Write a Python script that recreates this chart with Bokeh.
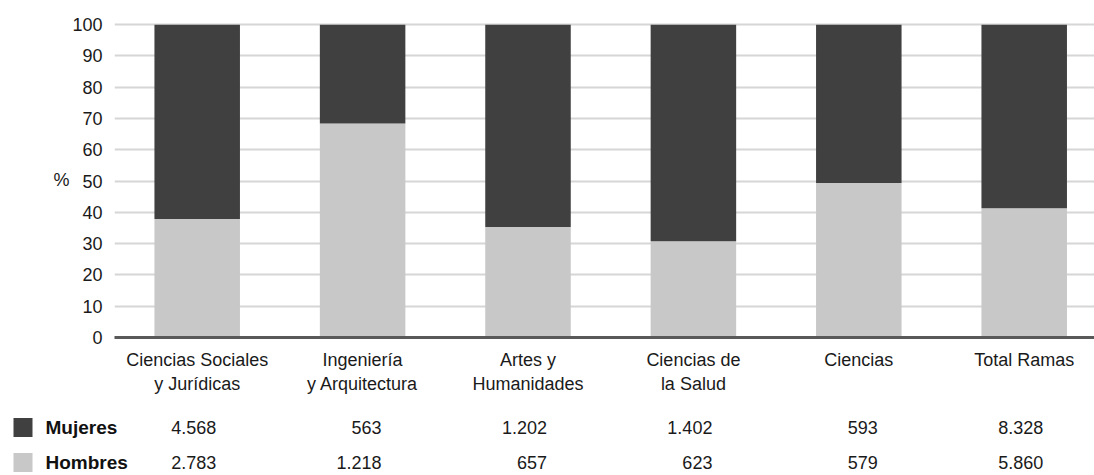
from bokeh.plotting import figure
from bokeh.models import Range1d, FixedTicker, ColumnDataSource
from bokeh.core.properties import value
from bokeh.embed import file_html
from bokeh.resources import INLINE

categorias = ["Ciencias Sociales\ny Jurídicas", "Ingeniería\ny Arquitectura", "Artes y\nHumanidades",
              "Ciencias de\nla Salud", "Ciencias", "Total Ramas"]
mujeres = [4568, 563, 1202, 1402, 593, 8328]
hombres = [2783, 1218, 657, 623, 579, 5860]
mujeres_txt = ["4.568", "563", "1.202", "1.402", "593", "8.328"]
hombres_txt = ["2.783", "1.218", "657", "623", "579", "5.860"]
series = ["Mujeres", "Hombres"]
y_ticks = [0, 10, 20, 30, 40, 50, 60, 70, 80, 90, 100]

FONT = "Liberation Sans"
FS = "18px"
DARK = "#404040"
LIGHT = "#c8c8c8"
TXT = "#1a1a1a"

LEFT, FRAME_W, FRAME_H = 114, 980, 316
X_END, Y_END = 5.925, 101
UPP = X_END / FRAME_W  # x data units per pixel

xs = [i + 0.5 for i in range(len(categorias))]
pct_h = [h / (h + m) * 100 for h, m in zip(hombres, mujeres)]
pct_m = [100 - v for v in pct_h]

p = figure(output_backend="svg", toolbar_location=None,
           x_range=Range1d(0, X_END), y_range=Range1d(0, Y_END),
           frame_width=FRAME_W, frame_height=FRAME_H,
           min_border_left=LEFT, min_border_right=0, min_border_top=21, min_border_bottom=63)
p.outline_line_color = None

src = ColumnDataSource(dict(x=xs, Hombres=pct_h, Mujeres=pct_m))
p.vbar_stack(["Hombres", "Mujeres"], x="x", width=0.517, color=[LIGHT, DARK],
             line_color=None, source=src)

p.xgrid.visible = False
p.ygrid.grid_line_color = "#d6d6d6"
p.ygrid.grid_line_width = 2
p.ygrid.ticker = FixedTicker(ticks=y_ticks)

p.yaxis.ticker = FixedTicker(ticks=y_ticks)
p.yaxis.axis_line_color = None
p.yaxis.major_tick_line_color = None
p.yaxis.minor_tick_line_color = None
p.yaxis.major_label_text_font = FONT
p.yaxis.major_label_text_font_size = FS
p.yaxis.major_label_text_color = TXT
p.yaxis.major_label_standoff = 6
p.yaxis.axis_label = "%"
p.yaxis.axis_label_orientation = "horizontal"
p.yaxis.axis_label_text_font = FONT
p.yaxis.axis_label_text_font_size = FS
p.yaxis.axis_label_text_font_style = "normal"
p.yaxis.axis_label_text_color = TXT
p.yaxis.axis_label_standoff = 0

p.xaxis.ticker = FixedTicker(ticks=xs)
p.xaxis.major_label_overrides = {x: c for x, c in zip(xs, categorias)}
p.xaxis.axis_line_color = "#595959"
p.xaxis.axis_line_width = 3
p.xaxis.major_tick_line_color = None
p.xaxis.minor_tick_line_color = None
p.xaxis.major_label_text_font = FONT
p.xaxis.major_label_text_font_size = FS
p.xaxis.major_label_text_color = TXT
p.xaxis.major_label_text_line_height = 1.2
p.xaxis.major_label_standoff = 6

# ---- data table below the chart: full-width frame, same category scale ----
t = figure(output_backend="svg", toolbar_location=None,
           x_range=Range1d(-LEFT * UPP, X_END), y_range=Range1d(1.343, -0.771),
           frame_width=LEFT + FRAME_W, frame_height=74,
           min_border_left=0, min_border_right=0, min_border_top=0, min_border_bottom=0,
           x_axis_location=None, y_axis_location=None)
t.outline_line_color = None
t.grid.visible = False

rows = [0, 1]
t.text(x=xs, y=[rows[0]] * len(xs), text=mujeres_txt, x_offset=19,
       text_font=value(FONT), text_font_size=FS, text_align="right",
       text_baseline="middle", text_color=TXT)
t.text(x=xs, y=[rows[1]] * len(xs), text=hombres_txt, x_offset=19,
       text_font=value(FONT), text_font_size=FS, text_align="right",
       text_baseline="middle", text_color=TXT)

# legend swatches and series names in the left margin
t.scatter(x=[(22.5 - LEFT) * UPP] * 2, y=rows, marker="square", size=19,
          color=[DARK, LIGHT], line_color=None)
t.text(x=[(45 - LEFT) * UPP] * 2, y=rows, text=series, text_font=value(FONT),
       text_font_size="19px", text_font_style="bold", text_align="left",
       text_baseline="middle", text_color="#111111")

open("out.html", "w").write(file_html([p, t], INLINE))
